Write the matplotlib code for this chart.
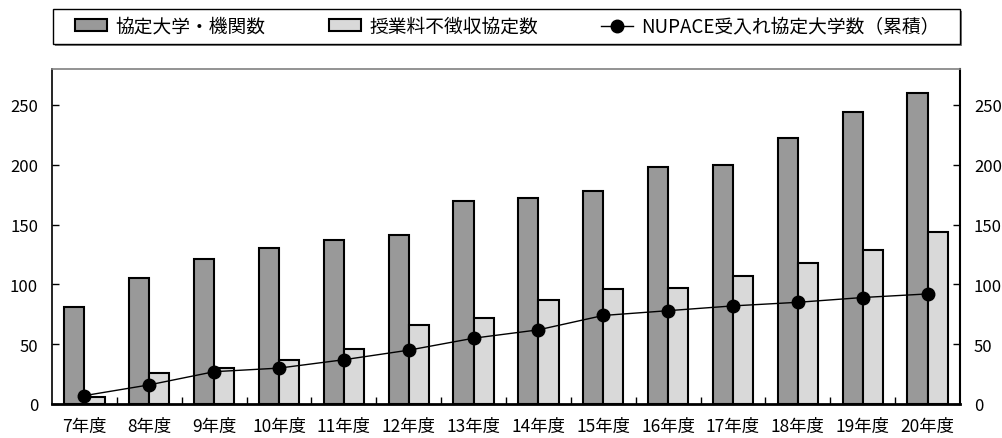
import numpy as np
import matplotlib
matplotlib.use('Agg')
import matplotlib.pyplot as plt
from matplotlib.ticker import FixedLocator
from matplotlib.patches import Rectangle

plt.rcParams['font.family'] = ['Noto Sans CJK JP', 'DejaVu Sans']

years = ['7年度', '8年度', '9年度', '10年度', '11年度', '12年度', '13年度',
         '14年度', '15年度', '16年度', '17年度', '18年度', '19年度', '20年度']
agreements = [81, 105, 121, 130, 137, 141, 170, 172, 178, 198, 200, 222, 244, 260]
tuition_waiver = [6, 26, 30, 37, 46, 66, 72, 87, 96, 97, 107, 118, 129, 144]
nupace_cum = [7, 16, 27, 30, 37, 45, 55, 62, 74, 78, 82, 85, 89, 92]

label_agree = '協定大学・機関数'
label_waiver = '授業料不徴収協定数'
label_nupace = 'NUPACE受入れ協定大学数（累積）'

x = np.arange(len(years))
w = 0.31
W, H = 1003, 439

fig = plt.figure(figsize=(W / 100, H / 100), dpi=100)
ax = fig.add_axes([52 / W, 1 - 405 / H, 908 / W, 335 / H])

b1 = ax.bar(x - w / 2, agreements, w, color='#999999', edgecolor='black', linewidth=1.5, label=label_agree, zorder=2)
b2 = ax.bar(x + w / 2, tuition_waiver, w, color='#d9d9d9', edgecolor='black', linewidth=1.5, label=label_waiver, zorder=2)
ln, = ax.plot(x, nupace_cum, '-', color='black', linewidth=1, marker='o', markersize=9, label=label_nupace, zorder=3)

ax.set_xlim(-0.5, len(years) - 0.5)
ax.set_ylim(0, 280)
ax.set_yticks([0, 50, 100, 150, 200, 250])
ax.set_xticks(x)
ax.set_xticklabels(years)
ax.xaxis.set_minor_locator(FixedLocator(np.arange(0.5, len(years) - 1, 1.0)))

ax.tick_params(axis='x', which='major', length=0, pad=9, labelsize=12.5)
ax.tick_params(axis='x', which='minor', direction='in', length=5, width=1, color='black')
ax.tick_params(axis='y', direction='in', length=5, width=1, left=True, right=True,
               labelleft=True, labelright=True, pad=10, labelsize=12)

ax.spines['top'].set_color('#808080')
ax.spines['top'].set_linewidth(1.2)
ax.spines['left'].set_linewidth(1.2)
ax.spines['right'].set_linewidth(1.5)
ax.spines['bottom'].set_linewidth(2)

# legend box with shadow, drawn by hand so the entries can sit inside it freely
fig.patches.append(Rectangle((55 / W, 1 - 47 / H), 907 / W, 35 / H, transform=fig.transFigure,
                             facecolor='#808080', edgecolor='none', zorder=1))
fig.patches.append(Rectangle((53 / W, 1 - 45 / H), 907 / W, 35 / H, transform=fig.transFigure,
                             facecolor='white', edgecolor='black', linewidth=1, zorder=2))

leg = fig.legend(handles=[b1, b2, ln], loc='center left', ncol=3,
                 bbox_to_anchor=(75 / W, 1 - 45 / H, 865 / W, 35 / H),
                 mode='expand', fontsize=13.5, frameon=False,
                 handlelength=1.7, handleheight=0.6,
                 handletextpad=0.45, borderaxespad=0, borderpad=0)
leg.set_zorder(3)

plt.savefig('out.png', dpi=100)
